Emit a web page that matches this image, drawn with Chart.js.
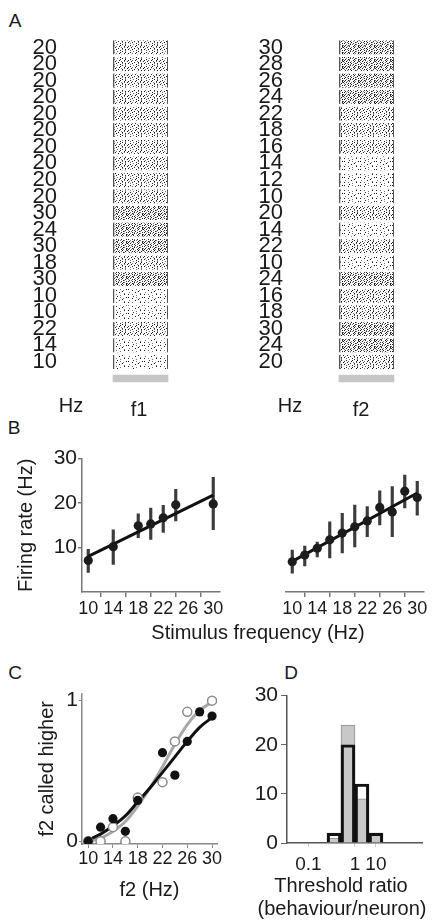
<!DOCTYPE html>
<html>
<head>
<meta charset="utf-8">
<script src="https://cdn.jsdelivr.net/npm/chart.js@4.4.1/dist/chart.umd.min.js"></script>
<style>
body{margin:0;background:#fff;width:432px;height:922px;position:relative;overflow:hidden;font-family:"Liberation Sans",Arial,sans-serif;color:#1a1a1a}
canvas{position:absolute}
.t{position:absolute;transform:translate(-50%,-50%);white-space:nowrap;font-size:20px;line-height:1}
</style>
</head>
<body>
<div class="t" style="left:15px;top:20px;font-size:19px">A</div>
<div class="t" style="left:14px;top:427px;font-size:19px">B</div>
<div class="t" style="left:15px;top:672px;font-size:19px">C</div>
<div class="t" style="left:291px;top:672px;font-size:19px">D</div>

<canvas id="rasterF1" width="216" height="376" style="left:0;top:25px"></canvas>
<canvas id="rasterF2" width="216" height="376" style="left:216px;top:25px"></canvas>
<div class="t" style="left:71px;top:405px">Hz</div>
<div class="t" style="left:139px;top:409px">f1</div>
<div class="t" style="left:290px;top:405px">Hz</div>
<div class="t" style="left:361px;top:409px">f2</div>

<canvas id="rateF1" width="232" height="190" style="left:0;top:445px"></canvas>
<canvas id="rateF2" width="216" height="190" style="left:216px;top:445px"></canvas>
<div class="t" style="left:258px;top:632px">Stimulus frequency (Hz)</div>

<canvas id="psycho" width="232" height="225" style="left:0;top:680px"></canvas>
<canvas id="ratio" width="216" height="195" style="left:216px;top:680px"></canvas>
<div class="t" style="left:341px;top:885px">Threshold ratio</div>
<div class="t" style="left:342px;top:908px">(behaviour/neuron)</div>

<script>
// A: trial frequencies, top to bottom
const f1Rows = [20,20,20,20,20,20,20,20,20,20,30,24,30,18,30,10,10,22,14,10];
const f2Rows = [30,28,26,24,22,18,16,14,12,10,20,14,22,10,24,16,18,30,24,20];
const stimWindow = [0, 500]; // ms

// B: firing rate vs stimulus frequency
const f1Freqs = [10,14,18,20,22,24,30];
const f1Rates = [7.1,10.2,14.9,15.3,16.7,19.6,19.8];
const f1ErrLo = [4.4,6.2,12.2,11.8,13.4,16.0,14.0];
const f1ErrHi = [9.6,14.0,17.6,18.9,19.5,23.1,25.8];
const f1FitY = [8.0,21.8];

const f2Freqs = [10,12,14,16,18,20,22,24,26,28,30];
const f2Rates = [6.7,8.2,9.7,11.6,13.1,14.5,15.8,18.8,17.8,22.4,21.0];
const f2ErrLo = [4.2,5.8,7.8,7.6,8.7,10.0,12.3,14.9,12.3,18.7,17.1];
const f2ErrHi = [9.3,10.2,11.1,15.6,17.5,19.3,19.0,22.5,23.4,26.0,24.6];
const f2FitY = [6.8,22.0];

const fitX = [10,30];
const freqTicks = [10,14,18,22,26,30];
const rateTicks = [10,20,30];

// C: proportion f2 called higher
const neuronFreqs = [10,12,14,16,18,22,24,26,28,30];
const neuronP = [0.0,0.10,0.16,0.07,0.29,0.63,0.47,0.71,0.92,0.89];
const behavFreqs = [10,12,14,16,18,22,24,26,30];
const behavP = [0.0,0.0,0.10,0.0,0.31,0.42,0.71,0.92,1.0];
const curveFreqs = [10,12,14,16,18,20,22,24,26,28,30];
const neuronCurve = [0.01,0.05,0.11,0.18,0.28,0.38,0.49,0.60,0.71,0.81,0.88];
const behavCurve = [0.0,0.02,0.07,0.14,0.25,0.38,0.53,0.69,0.83,0.93,0.99];

// D: threshold ratio histogram (log10 bin centres)
const ratioBins = [-0.45,-0.15,0.15,0.45];
const neuronCounts = [2,20,12,2];
const behavCounts = [1,24,9,2];
const ratioTickPos = [-1,0,0.45];
const ratioTickLabels = ['0.1','1','10'];

Chart.defaults.font.family = '"Liberation Sans", Arial, sans-serif';
Chart.defaults.color = '#1a1a1a';
Chart.defaults.animation = false;
Chart.defaults.plugins.legend.display = false;
Chart.defaults.plugins.tooltip.enabled = false;

function dotPattern(rows) {
    const t = document.createElement('canvas');
    t.width = rows[0].length;
    t.height = rows.length;
    const c = t.getContext('2d');
    c.fillStyle = '#fff';
    c.fillRect(0, 0, t.width, t.height);
    rows.forEach((r, y) => {
        [...r].forEach((ch, x) => {
            if (ch === '#') { c.fillStyle = 'rgba(20,20,20,0.95)'; c.fillRect(x, y, 1, 1); }
            if (ch === '+') { c.fillStyle = 'rgba(70,70,70,0.75)'; c.fillRect(x, y, 1, 1); }
        });
    });
    return c.createPattern(t, 'repeat');
}

const dense = dotPattern([
    "#..+.#...#.+..#.",
    "..#....+..#...+#",
    "+...#.#..+...#..",
    ".#.+...#...#+...",
    "#...#.+..#....#.",
    "..+...#.+..#+...",
    ".#..#+....#...#+"
]);
const medium = dotPattern([
    "#...+..#....#...",
    "...#.....+..+..#",
    ".+....#...#.....",
    "#...#.....+..#..",
    "..+.....#....+..",
    ".....+....#..+..",
    "..#.....#....#.."
]);
const sparse = dotPattern([
    "#.......+.....#.",
    "....#......+....",
    "..........#.....",
    ".+.....#........",
    "............+...",
    "#...+.......#...",
    "........+.......",
    ".....#.........."
]);

function rasterChart(id, rows, axisW, padRight) {
    new Chart(document.getElementById(id), {
        type: 'bar',
        data: {
            labels: rows.map(String).concat(['']),
            datasets: [{
                data: rows.map(() => stimWindow).concat([null]),
                backgroundColor: ctx => {
                    const f = rows[ctx.dataIndex];
                    return f >= 24 ? dense : (f >= 16 ? medium : sparse);
                },
                borderColor: '#555',
                borderWidth: {left: 1.5, right: 1, top: 0, bottom: 0},
                borderSkipped: false,
                barPercentage: 0.86,
                categoryPercentage: 1,
                grouped: false
            }, {
                data: rows.map(() => null).concat([stimWindow]),
                backgroundColor: '#c6c6c6',
                barThickness: 7,
                grouped: false
            }]
        },
        options: {
            indexAxis: 'y',
            responsive: false,
            devicePixelRatio: 1,
            layout: {padding: {top: 6, right: padRight, bottom: 0, left: 0}},
            scales: {
                x: {type: 'linear', min: -500, max: 800, display: false},
                y: {
                    grid: {display: false, drawTicks: false},
                    border: {display: false},
                    ticks: {font: {size: 22}, padding: 1, autoSkip: false},
                    afterFit: s => { s.width = axisW; }
                }
            }
        }
    });
}

rasterChart('rasterF1', f1Rows, 58, 15);
rasterChart('rasterF2', f2Rows, 68, 5);

function rateChart(id, freqs, rates, lo, hi, fitY, showY, pad) {
    new Chart(document.getElementById(id), {
        type: 'bar',
        data: {
            datasets: [{
                type: 'line',
                data: freqs.map((f, i) => ({x: f, y: rates[i]})),
                showLine: false,
                pointRadius: 4.6,
                pointBackgroundColor: '#1c1c1c',
                pointBorderWidth: 0,
                order: 0
            }, {
                type: 'line',
                data: fitX.map((f, i) => ({x: f, y: fitY[i]})),
                borderColor: '#111',
                borderWidth: 3,
                pointRadius: 0,
                order: 1
            }, {
                type: 'bar',
                data: freqs.map((f, i) => ({x: f, y: [lo[i], hi[i]]})),
                backgroundColor: '#3c3c3c',
                barThickness: 2.5,
                order: 2
            }]
        },
        options: {
            responsive: false,
            devicePixelRatio: 1,
            layout: {padding: pad},
            scales: {
                x: {
                    type: 'linear', min: 9, max: 31, offset: false,
                    afterBuildTicks: s => { s.ticks = freqTicks.map(v => ({value: v})); },
                    ticks: {font: {size: 18}, padding: 1, maxRotation: 0, autoSkip: false},
                    grid: {drawOnChartArea: false, tickLength: 5, color: '#777', lineWidth: 1.5},
                    border: {color: '#777', width: 1.5},
                    afterFit: s => { s.height = 43; }
                },
                y: {
                    display: showY,
                    min: 0, max: 30,
                    afterBuildTicks: s => { s.ticks = rateTicks.map(v => ({value: v})); },
                    ticks: {font: {size: 21}, padding: 1},
                    grid: {drawOnChartArea: false, tickLength: 4, color: '#777', lineWidth: 1.5},
                    border: {color: '#777', width: 1.5},
                    title: {display: true, text: 'Firing rate (Hz)', font: {size: 20}, padding: {top: 14, bottom: 0}},
                    afterFit: s => { s.width = showY ? 82 : 0; }
                }
            }
        }
    });
}

rateChart('rateF1', f1Freqs, f1Rates, f1ErrLo, f1ErrHi, f1FitY, true, {top: 12, right: 12.5, left: 0, bottom: 0});
rateChart('rateF2', f2Freqs, f2Rates, f2ErrLo, f2ErrHi, f2FitY, false, {top: 12, right: 8.5, left: 70, bottom: 0});

new Chart(document.getElementById('psycho'), {
    type: 'line',
    data: {
        datasets: [{
            data: curveFreqs.map((f, i) => ({x: f, y: behavCurve[i]})),
            borderColor: '#a8a8a8', borderWidth: 3, pointRadius: 0,
            cubicInterpolationMode: 'monotone', order: 3
        }, {
            data: curveFreqs.map((f, i) => ({x: f, y: neuronCurve[i]})),
            borderColor: '#111', borderWidth: 3, pointRadius: 0,
            cubicInterpolationMode: 'monotone', order: 2
        }, {
            data: behavFreqs.map((f, i) => ({x: f, y: behavP[i]})),
            showLine: false, pointRadius: 4.5,
            pointBackgroundColor: '#fff', pointBorderColor: '#8a8a8a', pointBorderWidth: 1.5,
            order: 1
        }, {
            data: neuronFreqs.map((f, i) => ({x: f, y: neuronP[i]})),
            showLine: false, pointRadius: 4.6,
            pointBackgroundColor: '#111', pointBorderWidth: 0,
            order: 0
        }]
    },
    options: {
        responsive: false,
        devicePixelRatio: 1,
        layout: {padding: {top: 10, right: 15, left: 0, bottom: 0}},
        scales: {
            x: {
                type: 'linear', min: 9, max: 30.8,
                afterBuildTicks: s => { s.ticks = freqTicks.map(v => ({value: v})); },
                ticks: {font: {size: 18}, padding: 0, maxRotation: 0, autoSkip: false},
                grid: {drawOnChartArea: false, tickLength: 4, color: '#888'},
                border: {color: '#888', width: 1.5},
                title: {display: true, text: 'f2 (Hz)', font: {size: 20}, padding: {top: 0, bottom: 3}},
                afterFit: s => { s.height = 61; }
            },
            y: {
                min: -0.02, max: 1.05,
                afterBuildTicks: s => { s.ticks = [0, 1].map(v => ({value: v})); },
                ticks: {font: {size: 21}, padding: 1},
                grid: {drawOnChartArea: false, tickLength: 3, color: '#888'},
                border: {color: '#888', width: 1.5},
                title: {display: true, text: 'f2 called higher', font: {size: 20}, padding: {top: 35, bottom: 0}},
                afterFit: s => { s.width = 82; }
            }
        }
    }
});

new Chart(document.getElementById('ratio'), {
    type: 'bar',
    data: {
        datasets: [{
            data: ratioBins.map((x, i) => ({x: x, y: neuronCounts[i]})),
            backgroundColor: 'rgba(0,0,0,0)',
            borderColor: '#111', borderWidth: 2.5,
            barPercentage: 1, categoryPercentage: 1, grouped: false, order: 0
        }, {
            data: ratioBins.map((x, i) => ({x: x, y: behavCounts[i]})),
            backgroundColor: '#c8c8c8',
            borderColor: '#8e8e8e', borderWidth: 1,
            barPercentage: 1, categoryPercentage: 1, grouped: false, order: 1
        }]
    },
    options: {
        responsive: false,
        devicePixelRatio: 1,
        layout: {padding: {top: 10, right: 10, left: 0, bottom: 0}},
        scales: {
            x: {
                type: 'linear', min: -1.46, max: 1.44, offset: false,
                afterBuildTicks: s => { s.ticks = ratioTickPos.map(v => ({value: v})); },
                ticks: {font: {size: 19}, padding: 6, maxRotation: 0, autoSkip: false,
                        callback: (v, i) => ratioTickLabels[i]},
                grid: {drawOnChartArea: false, tickLength: 4, color: '#ccc', offset: false},
                border: {color: '#555', width: 1.5},
                afterFit: s => { s.height = 32; }
            },
            y: {
                min: 0, max: 30,
                ticks: {stepSize: 10, font: {size: 21}, padding: 3},
                grid: {drawOnChartArea: false, tickLength: 6, color: '#666'},
                border: {color: '#555', width: 1.5},
                afterFit: s => { s.width = 71; }
            }
        }
    }
});
</script>
</body>
</html>
